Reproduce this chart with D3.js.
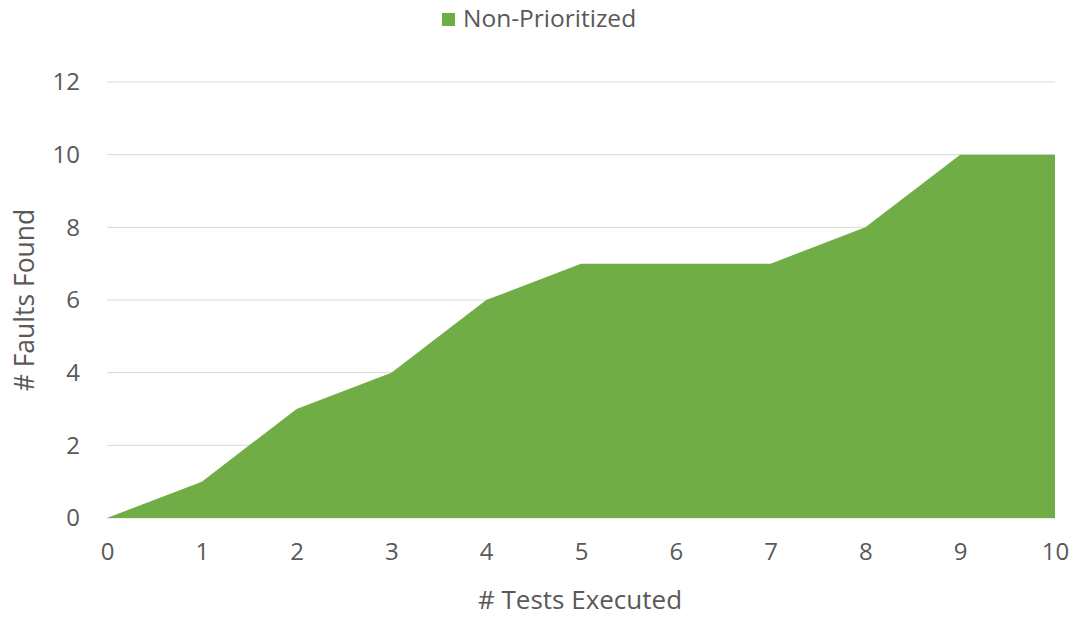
<!DOCTYPE html>
<html>
<head>
<meta charset="utf-8">
<script src="https://cdn.jsdelivr.net/npm/d3@7"></script>
<style>
  body { margin: 0; background: #fff; }
  text { font-family: "Open Sans", "Liberation Sans", sans-serif; fill: #595959; }
</style>
</head>
<body>
<svg width="1075" height="618"></svg>
<script>
// data
const testsExecuted = [0, 1, 2, 3, 4, 5, 6, 7, 8, 9, 10];
const faultsFound = [0, 1, 3, 4, 6, 7, 7, 7, 8, 10, 10];
const yTicks = [0, 2, 4, 6, 8, 10, 12];
const seriesName = "Non-Prioritized";

const svg = d3.select("svg");
const green = "#70ad47";

const x = d3.scaleLinear().domain([0, 10]).range([107, 1055]);
const y = d3.scaleLinear().domain([0, 12]).range([518, 82]);

// gridlines
svg.append("g")
    .selectAll("line")
    .data(yTicks)
    .join("line")
    .attr("x1", x(0))
    .attr("x2", x(10))
    .attr("y1", d => y(d))
    .attr("y2", d => y(d))
    .attr("stroke", "#d9d9d9")
    .attr("stroke-width", 1);

// area
const area = d3.area()
    .x((d, i) => x(testsExecuted[i]))
    .y0(y(0))
    .y1(d => y(d));

svg.append("path")
    .datum(faultsFound)
    .attr("fill", green)
    .attr("d", area);

// y axis
const yAxis = svg.append("g")
    .attr("transform", `translate(${x(0)},0)`)
    .call(d3.axisLeft(y).tickValues(yTicks).tickSize(0).tickPadding(27));
yAxis.select(".domain").remove();
yAxis.selectAll("text").style("font-size", "24px").attr("fill", "#595959");

// x axis
const xAxis = svg.append("g")
    .attr("transform", `translate(0,${y(0)})`)
    .call(d3.axisBottom(x).tickValues(testsExecuted).tickSize(0).tickPadding(25));
xAxis.select(".domain").remove();
xAxis.selectAll("text").style("font-size", "24px").attr("fill", "#595959");

// axis titles
svg.append("text")
    .attr("x", 580)
    .attr("y", 609)
    .attr("text-anchor", "middle")
    .style("font-size", "26px")
    .text("# Tests Executed");

svg.append("text")
    .attr("transform", `translate(34,300) rotate(-90)`)
    .attr("text-anchor", "middle")
    .style("font-size", "26.5px")
    .text("# Faults Found");

// legend
const legend = svg.append("g");
legend.append("rect")
    .attr("x", 442)
    .attr("y", 13)
    .attr("width", 13)
    .attr("height", 13)
    .attr("fill", green);
legend.append("text")
    .attr("x", 463)
    .attr("y", 27)
    .style("font-size", "24.5px")
    .text(seriesName);
</script>
</body>
</html>
